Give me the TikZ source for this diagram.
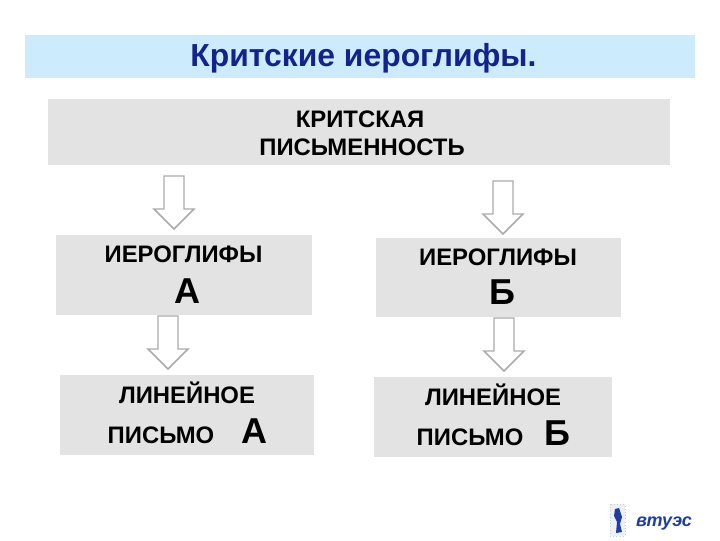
\documentclass[tikz,border=0pt]{standalone}
\usepackage{fontspec}
\setmainfont{Liberation Sans}
\definecolor{titlebg}{HTML}{CCEBFD}
\definecolor{titleblue}{HTML}{14238C}
\definecolor{boxgray}{HTML}{E3E3E3}
\definecolor{arrowgray}{HTML}{ABABAB}
\definecolor{logoblue}{HTML}{1F3F9F}
\newcommand{\blockarrow}[5]{% cx, half shaft, half head, top, neck
  \draw[blockarrow] (#1-#2,#4) -- (#1+#2,#4) -- (#1+#2,#5) -- (#1+#3,#5) -- (#1,#5+20) -- (#1-#3,#5) -- (#1-#2,#5) -- cycle;}
\tikzset{
  px/.style={x=0.75pt,y=-0.75pt},
  filledbox/.style={fill=boxgray,draw=none},
  blockarrow/.style={draw=arrowgray,line width=1.1pt,fill=white,line join=miter},
  lab/.style={inner sep=0pt,font=\bfseries\fontsize{17.9}{20}\selectfont,text=black,anchor=base},
  biglab/.style={inner sep=0pt,font=\bfseries\fontsize{27}{30}\selectfont,text=black,anchor=base},
}
\begin{document}
\begin{tikzpicture}[px]
\useasboundingbox (0,0) rectangle (720,540);
\fill[white] (0,0) rectangle (720,540);
\fill[titlebg] (25,35) rectangle (695,78);
\fill[filledbox] (48,99) rectangle (670,165);
\fill[filledbox] (56,235) rectangle (312,315);
\fill[filledbox] (376,238) rectangle (621,317);
\fill[filledbox] (60,375) rectangle (314,455);
\fill[filledbox] (374,377) rectangle (612,457);
\node[inner sep=0pt,anchor=base,text=titleblue,font=\bfseries\fontsize{23.9}{26}\selectfont] (title) at (363.5,66) {Критские иероглифы.};
\node[lab] (k1) at (360,127) {КРИТСКАЯ};
\node[lab] (k2) at (362,155) {ПИСЬМЕННОСТЬ};
\node[lab] (a1) at (183.5,262) {ИЕРОГЛИФЫ};
\node[biglab] (a2) at (187,303) {А};
\node[lab] (b1) at (498,265) {ИЕРОГЛИФЫ};
\node[biglab] (b2) at (502,304) {Б};
\node[lab] (c1) at (187,403) {ЛИНЕЙНОЕ};
\node[lab] (c2) at (161,443) {ПИСЬМО};
\node[biglab] (c3) at (254,443) {А};
\node[lab] (d1) at (493,405) {ЛИНЕЙНОЕ};
\node[lab] (d2) at (470,445) {ПИСЬМО};
\node[biglab] (d3) at (557,445) {Б};
\blockarrow{174}{10}{20}{176}{209}
\blockarrow{503}{10}{20}{181}{214}
\blockarrow{168}{10}{20}{316}{349}
\blockarrow{504}{10}{20}{318}{351}
% logo
\fill[logoblue!8] (610,504) rectangle (625,536);
\draw[arrowgray!60,line width=0.4pt,dotted] (610,504) rectangle (625,536);
\fill[logoblue] (615,509) -- (619,508) -- (622,517) -- (620,524) -- (622,532) -- (616,533) -- (617,522) -- (614,516) -- cycle;
\node[inner sep=0pt,anchor=base,text=logoblue,font=\itshape\bfseries\fontsize{13.5}{16}\selectfont] (logo) at (664,526) {втуэс};
\end{tikzpicture}
\end{document}
